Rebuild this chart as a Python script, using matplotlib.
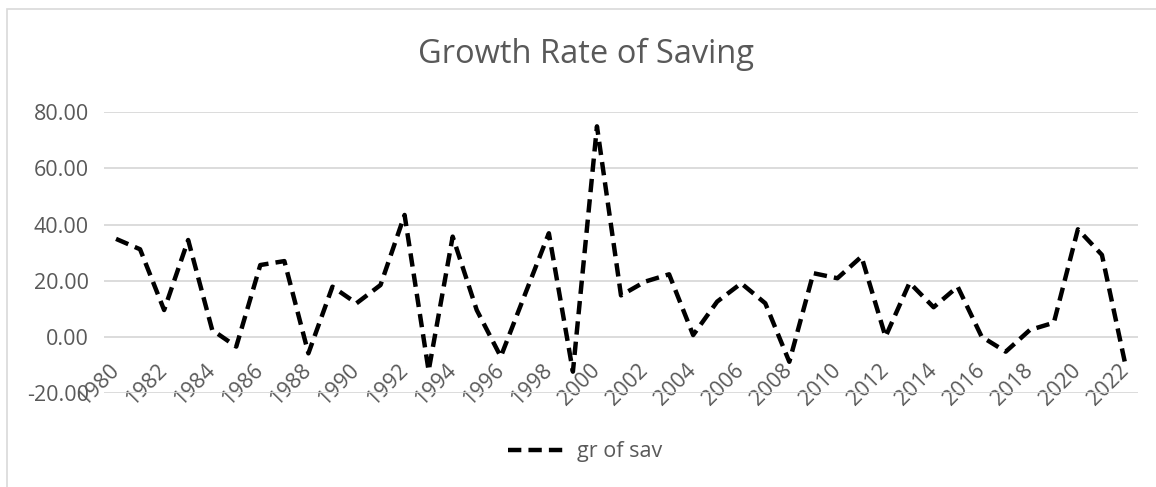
import matplotlib
matplotlib.use("Agg")
import matplotlib.pyplot as plt
from matplotlib.patches import Rectangle

years = list(range(1980, 2023))
growth_rate = [
    34.9, 31.2, 9.6, 34.5, 2.5, -3.4, 25.6, 27.0, -5.8, 17.9,
    12.0, 18.5, 43.4, -12.0, 35.7, 9.6, -7.0, 15.0, 36.9, -12.3,
    74.9, 14.8, 19.7, 22.3, 0.7, 12.6, 19.1, 12.0, -8.8, 22.7,
    20.9, 28.6, 0.1, 19.3, 10.6, 17.9, 0.1, -5.2, 2.5, 5.1,
    38.3, 29.2, -10.8,
]
tick_years = list(range(1980, 2023, 2))
y_ticks = [-20, 0, 20, 40, 60, 80]

TEXT = "#595959"
GRID = "#d9d9d9"
plt.rcParams["font.family"] = ["Open Sans", "DejaVu Sans"]

fig = plt.figure(figsize=(11.56, 4.87), dpi=100)
fig.patches.append(Rectangle((7 / 1156, -0.05), 1.1, 1 - 9 / 487 + 0.05,
                             transform=fig.transFigure, fill=False,
                             edgecolor=GRID, linewidth=1.2, zorder=0))

ax = fig.add_axes([104 / 1156, 1 - 393.3 / 487, (1138 - 104) / 1156, (393.3 - 112) / 487])
ax.plot(years, growth_rate, color="black", linewidth=3.2,
        linestyle=(0, (3.0, 1.6)), dash_capstyle="butt", label="gr of sav", zorder=3)

ax.set_xlim(1979.5, 2022.5)
ax.set_ylim(-20, 80)
ax.set_yticks(y_ticks)
ax.set_yticklabels([f"{v:.2f}" for v in y_ticks])
ax.yaxis.grid(True, color=GRID, linewidth=1.3)
ax.set_axisbelow(True)
for s in ["top", "right", "left"]:
    ax.spines[s].set_visible(False)
ax.spines["bottom"].set_position(("data", 0))
ax.spines["bottom"].set_visible(False)
ax.tick_params(axis="y", length=0, pad=11, labelsize=15.5, labelcolor=TEXT)

ax.set_xticks(tick_years)
ax.set_xticklabels([str(y) for y in tick_years], rotation=45, ha="right",
                   va="center", rotation_mode="anchor")
ax.tick_params(axis="x", length=0, pad=22, labelsize=15.5, labelcolor=TEXT)

fig.text(586 / 1156, 1 - 54 / 487, "Growth Rate of Saving", ha="center", va="center",
         fontsize=23.5, color=TEXT)

leg = fig.legend(loc="center", bbox_to_anchor=(585 / 1156, 1 - 452 / 487), frameon=False,
                 fontsize=15.5, handlelength=2.8, handletextpad=0.4, labelcolor=TEXT)

fig.savefig("out.png", dpi=100)
